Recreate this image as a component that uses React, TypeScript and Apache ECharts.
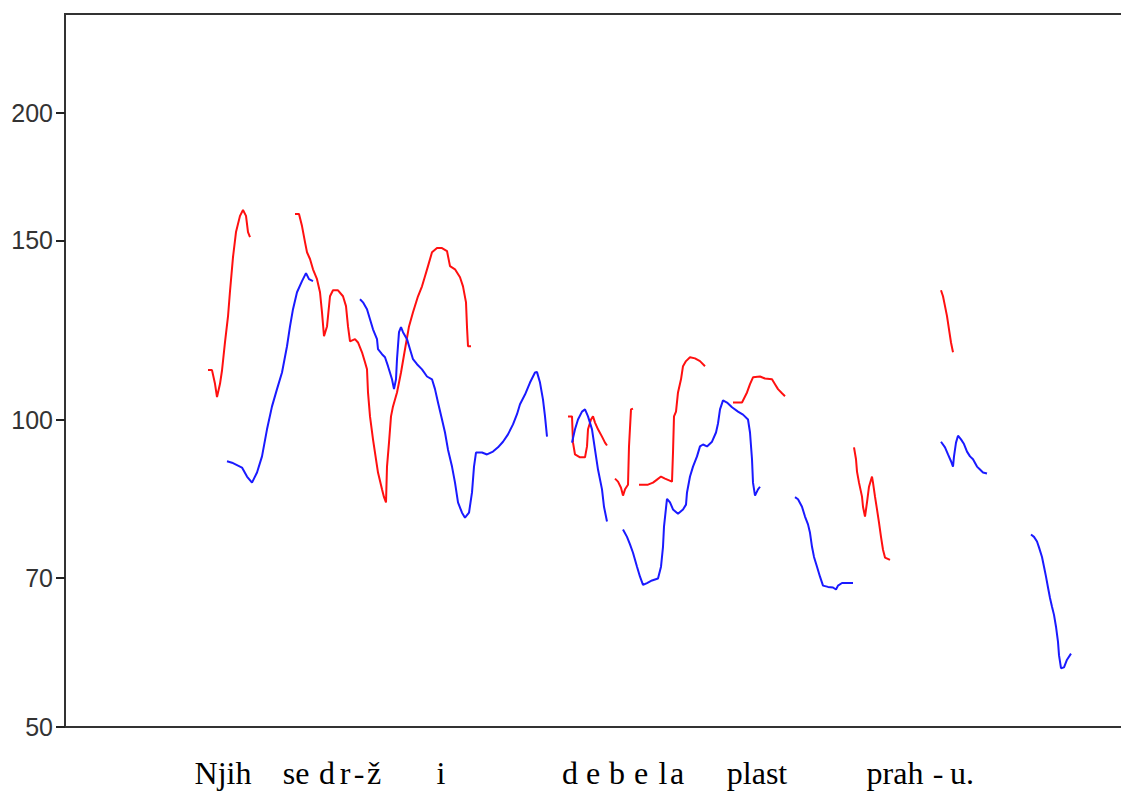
import React, { useEffect, useRef } from "react";
import * as echarts from "echarts";

// Y axis (Hz, logarithmic display)
const yTicks = [50, 70, 100, 150, 200];
const yMin = 50;
const yMax = 250;
// Time axis (arbitrary frame units)
const tMin = 0;
const tMax = 1060;

// Syllable transcription under the contours
const wordTokens = ["Njih", "se", "d", "r", "-", "ž", "i", "d", "e", "b", "e", "l", "a", "plast", "prah", "-", "u."];
const wordTimes = [158, 231, 262, 280, 294, 309, 376, 505, 528, 552, 576, 598, 612, 692, 830, 873, 897];

// Red contour segments [time, Hz]
const red1 = [[143,111.9],[147,111.9],[150,108.5],[152,105.3],[155,108.5],[157,111.8],[160,119.2],[163,126.3],[165,133.7],[168,144.4],[171,152.8],[175,158.5],[178,160.6],[181,158.5],[183,152.8],[185,151.1]];
const red2 = [[230,159.2],[234,159.2],[237,154.9],[240,149.4],[242,146.0],[245,143.8],[248,140.5],[252,137.4],[255,133.4],[257,127.5],[259,120.8],[262,123.5],[265,132.2],[268,134.0],[273,134.0],[278,132.2],[281,129.3],[283,123.5],[285,119.4],[290,120.0],[293,119.1],[297,116.5],[300,113.9],[302,112.1],[303,106.4],[305,100.8],[308,95.7],[311,91.5],[313,88.8],[317,85.5],[319,84.0],[321,83.0],[322,90.0],[324,95.0],[326,100.8],[328,103.1],[332,106.4],[336,111.3],[340,117.3],[344,123.5],[348,127.5],[353,132.2],[357,135.2],[360,138.3],[363,141.5],[367,146.0],[372,147.4],[377,147.4],[382,146.4],[385,141.5],[390,140.5],[395,138.0],[398,135.2],[401,130.4],[402,123.3],[403,118.1],[406,118.1]];
const red3 = [[503,100.8],[507,100.8],[508,95.0],[510,92.5],[515,91.9],[520,91.9],[522,94.2],[523,97.9],[526,100.1],[528,100.8],[530,99.4],[533,97.9],[537,96.3],[540,95.0],[542,94.4]];
const red4 = [[550,87.6],[553,87.0],[556,85.8],[558,84.3],[560,85.5],[563,86.4],[564,94.2],[566,102.4],[568,102.6]];
const red5 = [[574,86.4],[583,86.4],[588,86.8],[592,87.4],[596,88.0],[600,87.6],[607,87.0],[608,92.9],[609,100.8],[611,101.9],[613,106.4],[616,109.6],[618,112.9],[621,114.2],[625,115.2],[630,114.9],[635,114.2],[640,112.9]];
const red6 = [[668,104.0],[677,104.0],[682,106.4],[685,108.4],[688,110.1],[695,110.3],[700,109.8],[707,109.6],[710,108.4],[713,107.2],[717,106.2],[720,105.5]];
const red7 = [[789,94.0],[791,91.5],[792,89.0],[794,86.8],[797,84.1],[798,82.2],[800,80.4],[802,83.0],[804,86.0],[807,88.0],[808,86.8],[810,84.1],[812,81.7],[814,79.3],[816,76.8],[818,74.6],[820,73.3],[825,72.9]];
const red8 = [[876,134.0],[878,132.2],[880,129.3],[882,126.4],[884,122.7],[886,119.1],[888,116.5]];

// Blue contour segments [time, Hz]
const blue1 = [[162,91.1],[167,90.8],[177,89.8],[182,88.0],[187,86.8],[192,88.8],[197,92.1],[202,97.9],[207,103.1],[212,107.2],[217,111.3],[222,118.1],[225,123.5],[228,128.4],[232,133.4],[237,136.8],[241,139.3],[244,137.4],[248,136.8]];
const blue2 = [[295,131.3],[298,130.4],[302,128.4],[305,125.5],[308,122.7],[312,120.0],[313,117.3],[317,116.0],[320,115.2],[323,112.9],[327,109.6],[329,107.2],[331,109.6],[332,114.7],[334,121.9],[336,123.3],[338,121.9],[342,120.0],[345,117.3],[348,114.7],[352,113.4],[357,112.1],[362,110.3],[367,109.6],[370,107.2],[373,104.0],[377,100.1],[380,97.2],[383,93.5],[387,90.0],[390,86.8],[393,83.0],[397,81.1],[400,80.2],[404,81.1],[407,84.9],[409,90.0],[411,92.9],[417,92.9],[422,92.5],[428,93.1],[433,94.0],[438,95.2],[443,96.8],[448,99.0],[452,101.3],[455,103.6],[460,105.9],[465,108.8],[470,111.3],[472,111.4],[475,108.8],[478,104.7],[480,100.8],[482,96.3]];
const blue3 = [[507,95.0],[510,97.9],[513,100.1],[517,101.9],[520,102.4],[523,100.8],[527,97.9],[530,93.5],[533,89.4],[537,85.5],[539,82.2],[542,79.5]];
const blue4 = [[558,78.1],[562,76.8],[565,75.5],[568,74.1],[572,71.8],[575,70.2],[578,68.9],[582,69.2],[587,69.6],[593,69.9],[596,71.8],[598,75.1],[599,78.6],[602,83.7],[605,83.0],[608,81.7],[613,80.9],[618,81.7],[621,82.6],[622,84.9],[625,88.0],[628,90.0],[632,92.1],[635,94.2],[638,94.6],[642,94.2],[647,95.2],[651,97.2],[653,99.2],[655,102.4],[658,104.5],[662,104.0],[667,102.9],[673,101.9],[678,101.2],[683,100.1],[685,97.2],[687,91.5],[688,86.8],[690,84.3],[693,85.5],[695,86.0]];
const blue5 = [[730,84.0],[733,83.6],[737,82.2],[740,80.4],[743,79.0],[745,77.5],[747,75.1],[749,73.4],[752,71.8],[755,70.2],[758,68.8],[763,68.6],[768,68.5],[771,68.2],[773,68.8],[777,69.2],[782,69.2],[788,69.2]];
const blue6 = [[876,95.2],[880,94.0],[883,92.5],[886,91.1],[888,90.0],[889,92.1],[891,95.0],[893,96.5],[896,95.7],[899,94.7],[902,93.1],[905,92.1],[908,91.5],[912,90.0],[915,89.4],[918,88.8],[922,88.6]];
const blue7 = [[966,77.2],[969,76.8],[972,76.0],[974,75.0],[977,73.4],[979,71.8],[981,70.2],[983,68.5],[985,66.9],[987,65.6],[989,64.4],[991,62.7],[993,60.6],[994,58.8],[996,57.1],[999,57.2],[1002,58.2],[1006,59.0]];

const redSegments = [red1, red2, red3, red4, red5, red6, red7, red8];
const blueSegments = [blue1, blue2, blue3, blue4, blue5, blue6, blue7];

const RED = "#ff1010";
const BLUE = "#1a1aff";

export default function App() {
  const ref = useRef<HTMLDivElement>(null);

  useEffect(() => {
    if (!ref.current) return;
    const chart = echarts.init(ref.current, undefined, { renderer: "svg" });

    const lnTicks = yTicks.map((v) => Math.log(v));
    const lookup = (v: number) => {
      let best = 0;
      let bd = Infinity;
      wordTimes.forEach((t, i) => {
        const d = Math.abs(t - v);
        if (d < bd) { bd = d; best = i; }
      });
      return wordTokens[best];
    };

    const mk = (seg: number[][], color: string, name: string) => ({
      type: "line",
      name,
      data: seg.map(([t, hz]) => [t, Math.log(hz)]),
      showSymbol: false,
      symbol: "none",
      silent: true,
      smooth: false,
      lineStyle: { color, width: 2 },
      itemStyle: { color },
    });

    const series = [
      ...redSegments.map((s, i) => mk(s, RED, "red" + i)),
      ...blueSegments.map((s, i) => mk(s, BLUE, "blue" + i)),
    ];

    chart.setOption({
      animation: false,
      backgroundColor: "#ffffff",
      grid: {
        left: 65,
        top: 14,
        right: -4,
        bottom: 64,
        show: true,
        borderColor: "#333333",
        borderWidth: 2,
        containLabel: false,
        outerBoundsMode: "none",
      },
      xAxis: {
        type: "value",
        min: tMin,
        max: tMax,
        splitLine: { show: false },
        axisLine: { show: true, lineStyle: { color: "#333333", width: 2 } },
        axisTick: { show: false },
        axisLabel: {
          customValues: wordTimes,
          formatter: (v: number) => lookup(v),
          margin: 30,
          fontFamily: "Liberation Serif",
          fontSize: 32,
          color: "#000000",
          hideOverlap: false,
        },
      },
      yAxis: {
        type: "value",
        min: Math.log(yMin),
        max: Math.log(yMax),
        splitLine: { show: false },
        axisLine: { show: true, onZero: false, lineStyle: { color: "#333333", width: 2 } },
        axisTick: {
          show: true,
          inside: false,
          customValues: lnTicks,
          length: 9,
          lineStyle: { color: "#222222", width: 2 },
        },
        axisLabel: {
          customValues: lnTicks,
          formatter: (v: number) => String(Math.round(Math.exp(v))),
          margin: 12,
          fontFamily: "Liberation Sans",
          fontSize: 25,
          color: "#333333",
          showMinLabel: true,
          showMaxLabel: true,
        },
      },
      series,
    });

    return () => chart.dispose();
  }, []);

  return (
    <div
      ref={ref}
      style={{ position: "fixed", left: 0, top: 0, width: 1121, height: 791, background: "#fff" }}
    />
  );
}
